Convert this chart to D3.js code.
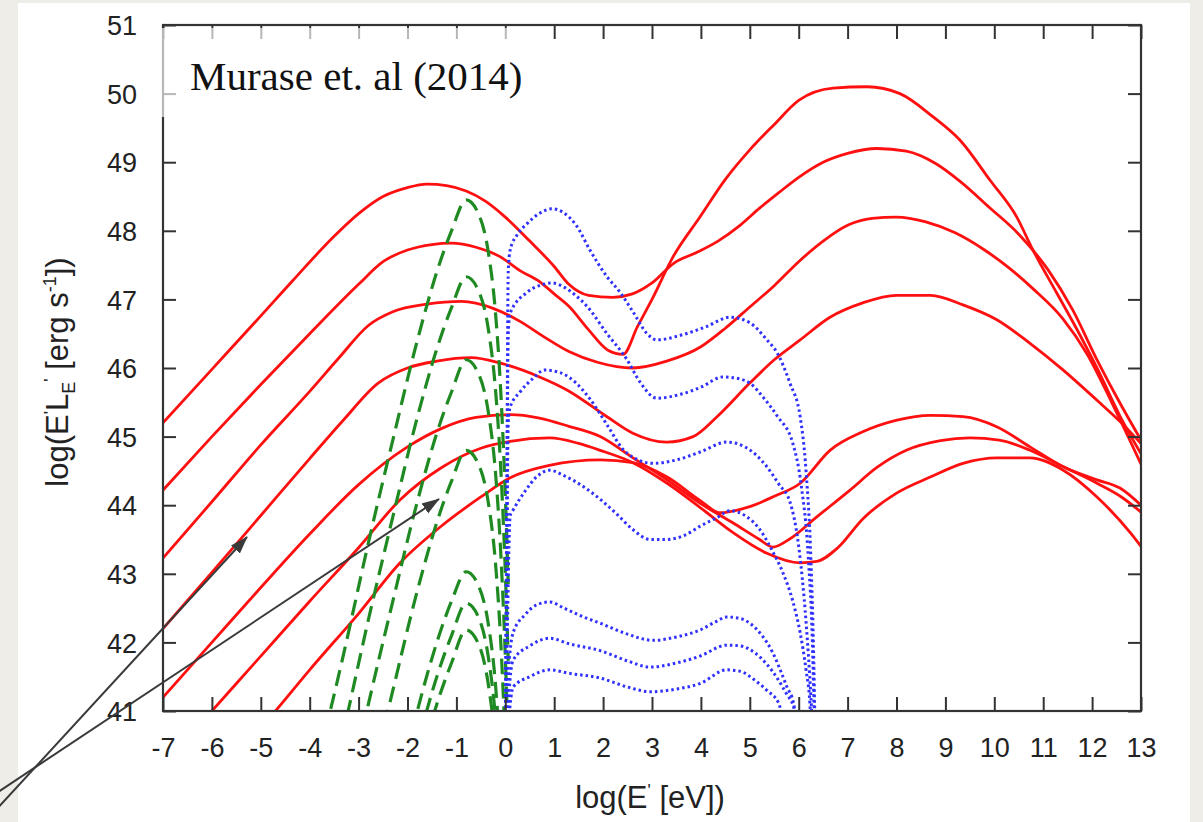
<!DOCTYPE html>
<html>
<head>
<meta charset="utf-8">
<script src="https://cdn.jsdelivr.net/npm/d3@7"></script>
<style>
  body { margin: 0; background: #efede7; }
  svg { display: block; }
</style>
</head>
<body>
<div id="chart"></div>
<script>
// axis ticks
var xTickValues = [-7, -6, -5, -4, -3, -2, -1, 0, 1, 2, 3, 4, 5, 6, 7, 8, 9, 10, 11, 12, 13];
var yTickValues = [41, 42, 43, 44, 45, 46, 47, 48, 49, 50, 51];

// red solid: synchrotron + inverse Compton, [log E, log EL_E]
var red1 = [[-7,45.2],[-6,45.98],[-5,46.76],[-4.34,47.28],[-3.5,47.92],[-3,48.25],[-2.5,48.5],[-2,48.63],[-1.6,48.68],[-1.2,48.66],[-0.8,48.58],[-0.4,48.43],[0,48.2],[0.5,47.85],[1,47.48],[1.3,47.22],[1.7,47.06],[2.2,47.03],[2.6,47.08],[3,47.24],[3.45,47.53],[3.9,47.68],[4.35,47.85],[4.8,48.08],[5.2,48.33],[5.6,48.56],[6,48.78],[6.5,49],[7,49.13],[7.6,49.2],[8.2,49.16],[8.8,48.98],[9.3,48.72],[9.9,48.34],[10.5,47.95],[11.1,47.43],[11.6,46.85],[12.1,46.12],[12.6,45.45],[13,44.95]];
var red2 = [[-7,44.22],[-6,45],[-5,45.76],[-4,46.5],[-3,47.22],[-2.5,47.55],[-2,47.72],[-1.5,47.8],[-1.1,47.82],[-0.6,47.76],[-0.1,47.62],[0.3,47.42],[0.7,47.26],[1,47.08],[1.3,46.9],[1.7,46.56],[2.1,46.26],[2.41,46.2],[2.7,46.6],[3,47],[3.43,47.62],[3.98,48.2],[4.5,48.75],[5,49.18],[5.5,49.55],[6,49.9],[6.7,50.08],[7.4,50.1],[8.07,50],[8.75,49.66],[9.3,49.32],[9.91,48.74],[10.46,48.2],[10.79,47.72],[11.28,47.09],[11.7,46.55],[12.1,46],[12.57,45.3],[13,44.75]];
var red3 = [[-7,43.23],[-6,44.05],[-5,44.88],[-4,45.66],[-3.4,46.15],[-2.8,46.62],[-2.3,46.82],[-1.6,46.93],[-0.9,46.97],[-0.25,46.87],[0.3,46.68],[0.8,46.45],[1.3,46.24],[1.9,46.08],[2.6,46],[3.3,46.1],[4,46.31],[4.5,46.58],[5,46.89],[5.5,47.2],[6,47.55],[6.5,47.85],[7,48.08],[7.5,48.18],[8,48.2],[8.6,48.13],[9.2,47.97],[9.8,47.72],[10.3,47.46],[10.8,47.15],[11.4,46.72],[11.9,46.2],[12.4,45.5],[13,44.6]];
var red4 = [[-7,42.2],[-6,43.02],[-5,43.85],[-4,44.68],[-3.3,45.25],[-2.6,45.78],[-2,46],[-1.4,46.1],[-0.7,46.15],[-0.1,46.07],[0.7,45.87],[1.26,45.68],[2.08,45.29],[2.61,45.05],[3.3,44.92],[3.84,45],[4.33,45.29],[5,45.78],[5.5,46.12],[6.03,46.41],[6.64,46.74],[7.31,46.95],[8,47.06],[8.7,47.06],[9.36,46.92],[10.06,46.7],[10.73,46.36],[11.41,45.97],[12.1,45.53],[12.6,45.2],[13,44.9]];
var red5 = [[-7,41.2],[-6,42],[-5,42.8],[-4,43.58],[-3,44.3],[-2,44.85],[-1.3,45.12],[-0.6,45.28],[0.1,45.32],[0.7,45.27],[1.3,45.15],[1.94,45],[2.61,44.69],[3.31,44.37],[3.98,44.03],[4.66,43.74],[5.2,43.5],[5.47,43.39],[5.8,43.5],[6.37,43.83],[7.05,44.22],[7.6,44.55],[8.2,44.8],[8.9,44.94],[9.5,44.98],[10.1,44.95],[10.73,44.8],[11.41,44.56],[12.1,44.32],[12.6,44.12],[13,43.9]];
var red6 = [[-7,40.2],[-6,41],[-5,41.8],[-4,42.6],[-3,43.38],[-2.15,44.08],[-1.3,44.55],[-0.5,44.83],[0.1,44.93],[0.91,44.98],[1.5,44.9],[1.94,44.8],[2.61,44.62],[3.31,44.32],[3.98,43.97],[4.66,43.6],[5.35,43.3],[6.03,43.16],[6.37,43.18],[6.8,43.38],[7.31,43.8],[8.01,44.18],[8.69,44.41],[9.36,44.61],[10.06,44.69],[10.73,44.69],[11.41,44.51],[12.1,44.12],[12.78,43.6],[13,43.4]];
var red7 = [[-5,40.75],[-4.7,41],[-4,41.6],[-3,42.42],[-2.15,43.16],[-1.3,43.7],[-0.5,44.12],[0.1,44.4],[0.9,44.58],[1.94,44.66],[2.61,44.62],[3.31,44.41],[3.98,44.07],[4.39,43.89],[5,43.98],[5.5,44.13],[6.03,44.32],[6.64,44.8],[7.31,45.07],[8.01,45.24],[8.69,45.31],[9.36,45.29],[10.06,45.14],[10.73,44.85],[11.41,44.56],[12.1,44.37],[12.57,44.25],[13,44]];

// green dashed: thermal bumps, shared energies
var greenX = [-3.8, -3.3, -2.8, -2.3, -1.8, -1.4, -1.1, -0.8, -0.55, -0.35, -0.2, -0.1, 0.0, 0.06];
var green1 = [40.35, 41.85, 43.45, 44.95, 46.4, 47.4, 48.0, 48.45, 48.25, 47.7, 46.8, 45.75, 44.15, 42.85];
var green2 = [39.23, 40.73, 42.33, 43.83, 45.28, 46.28, 46.88, 47.33, 47.13, 46.58, 45.68, 44.63, 43.03, 41.73];
var green3 = [38.0, 39.5, 41.1, 42.6, 44.05, 45.05, 45.65, 46.12, 45.92, 45.37, 44.47, 43.4, 41.8, 40.5];
var green4 = [36.7, 38.2, 39.8, 41.3, 42.75, 43.75, 44.35, 44.8, 44.6, 44.05, 43.15, 42.1, 40.5, 39.2];
var green5 = [34.9, 36.4, 38.0, 39.5, 41.0, 42.0, 42.6, 43.03, 42.83, 42.28, 41.38, 40.3, 38.7, 37.4];
var green6 = [34.5, 36.0, 37.6, 39.1, 40.5, 41.5, 42.1, 42.57, 42.37, 41.8, 40.9, 39.9, 38.3, 37.0];
var green7 = [34.1, 35.6, 37.2, 38.7, 40.1, 41.1, 41.7, 42.18, 41.98, 41.4, 40.5, 39.5, 37.9, 36.6];

// blue dotted
var blue1 = [[0,40],[0.03,44],[0.06,47.4],[0.1,47.72],[0.25,47.95],[0.44,48.1],[0.71,48.26],[0.95,48.32],[1.2,48.26],[1.45,48.08],[1.73,47.72],[2.08,47.33],[2.35,47.1],[2.61,46.82],[2.9,46.5],[3.1,46.41],[3.6,46.48],[4.1,46.6],[4.6,46.74],[5,46.66],[5.35,46.41],[5.56,46.22],[5.82,45.78],[6.03,45.29],[6.15,44.5],[6.25,43.2],[6.3,42],[6.34,40.5]];
var blue2 = [[0,40],[0.03,43.5],[0.06,46.5],[0.1,46.8],[0.44,47.1],[0.78,47.22],[0.95,47.24],[1.2,47.18],[1.45,47.05],[1.67,46.9],[2.08,46.5],[2.49,46.12],[2.75,45.8],[3.1,45.56],[3.6,45.62],[4,45.72],[4.45,45.87],[4.8,45.84],[5,45.78],[5.3,45.55],[5.56,45.3],[5.88,44.9],[6.05,44.3],[6.2,43.2],[6.28,42],[6.33,40.5]];
var blue3 = [[0,40],[0.03,43],[0.06,45.2],[0.1,45.43],[0.3,45.65],[0.57,45.85],[0.8,45.97],[1.13,45.93],[1.45,45.78],[1.73,45.55],[2.1,45.15],[2.4,44.82],[2.61,44.7],[3.02,44.61],[3.5,44.66],[4,44.78],[4.53,44.92],[4.9,44.85],[5.35,44.56],[5.6,44.3],[5.82,44.05],[6,43.4],[6.15,42.3],[6.25,41.2],[6.3,40.5]];
var blue4 = [[0,40],[0.05,42.5],[0.1,43.85],[0.16,43.93],[0.4,44.2],[0.65,44.42],[0.91,44.51],[1.2,44.43],[1.6,44.27],[2,44.05],[2.28,43.87],[2.6,43.65],[2.96,43.5],[3.3,43.5],[3.63,43.55],[4,43.7],[4.33,43.82],[4.6,43.92],[4.9,43.85],[5.21,43.64],[5.45,43.35],[5.68,43.01],[5.88,42.6],[6.03,42.14],[6.15,41.6],[6.23,41.1],[6.27,40.5]];
var blue5 = [[0,40],[0.06,41.5],[0.16,42.14],[0.4,42.4],[0.65,42.55],[0.91,42.59],[1.2,42.5],[1.6,42.37],[1.94,42.28],[2.5,42.12],[3.02,42.03],[3.5,42.08],[3.98,42.18],[4.3,42.3],[4.53,42.37],[4.8,42.35],[5,42.28],[5.25,42.1],[5.47,41.85],[5.65,41.55],[5.76,41.35],[5.9,41.1],[5.98,40.5]];
var blue6 = [[0,40],[0.08,41.3],[0.16,41.74],[0.5,41.95],[0.91,42.06],[1.3,41.98],[1.94,41.88],[2.5,41.73],[2.96,41.64],[3.5,41.7],[3.98,41.8],[4.53,41.96],[4.8,41.95],[5.1,41.85],[5.35,41.68],[5.56,41.48],[5.75,41.25],[5.9,41.05],[5.96,40.5]];
var blue7 = [[0,40],[0.1,41.1],[0.16,41.35],[0.5,41.5],[0.91,41.6],[1.3,41.55],[1.94,41.48],[2.5,41.35],[2.96,41.28],[3.5,41.32],[3.98,41.4],[4.53,41.6],[4.8,41.58],[5.1,41.45],[5.35,41.3],[5.6,41.1],[5.7,40.5]];

var redSeries = [red1, red2, red3, red4, red5, red6, red7];
var greenSeries = [green1, green2, green3, green4, green5, green6, green7];
var blueSeries = [blue1, blue2, blue3, blue4, blue5, blue6, blue7];

var width = 1203, height = 822;
var x = d3.scaleLinear().domain([-7, 13]).range([163, 1141]);
var y = d3.scaleLinear().domain([41, 51]).range([711, 25]);

var svg = d3.select("#chart").append("svg").attr("width", width).attr("height", height);

// white page panel
svg.append("rect").attr("x", 18).attr("y", 3).attr("width", 1172).attr("height", 830).attr("fill", "#fff");

svg.append("defs").append("clipPath").attr("id", "plotclip")
  .append("rect").attr("x", x(-7)).attr("y", y(51)).attr("width", x(13) - x(-7)).attr("height", y(41) - y(51));

var line = d3.line().x(function (d) { return x(d[0]); }).y(function (d) { return y(d[1]); })
  .curve(d3.curveMonotoneX);

var curves = svg.append("g").attr("clip-path", "url(#plotclip)");

curves.selectAll(".red").data(redSeries).enter().append("path")
  .attr("class", "red")
  .attr("d", line)
  .attr("fill", "none").attr("stroke", "#ff1010").attr("stroke-width", 2.8);

curves.selectAll(".green").data(greenSeries).enter().append("path")
  .attr("class", "green")
  .attr("d", function (vals) { return line(greenX.map(function (e, i) { return [e, vals[i]]; })); })
  .attr("fill", "none").attr("stroke", "#1f8a22").attr("stroke-width", 3.2)
  .attr("stroke-dasharray", "16,8");

curves.selectAll(".blue").data(blueSeries).enter().append("path")
  .attr("class", "blue")
  .attr("d", line)
  .attr("fill", "none").attr("stroke", "#3030ff").attr("stroke-width", 3)
  .attr("stroke-dasharray", "2.5,3");

// axes, ticks inside the frame
var tickFont = "27px 'Liberation Sans', Arial, sans-serif";
var plain = function (d) { return String(d); };
var axB = svg.append("g").attr("transform", "translate(0," + y(41) + ")")
  .call(d3.axisBottom(x).tickValues(xTickValues).tickSizeInner(-14).tickSizeOuter(0).tickPadding(27).tickFormat(plain));
var axT = svg.append("g").attr("transform", "translate(0," + y(51) + ")")
  .call(d3.axisTop(x).tickValues(xTickValues).tickSizeInner(-14).tickSizeOuter(0).tickFormat(""));
var axL = svg.append("g").attr("transform", "translate(" + x(-7) + ",0)")
  .call(d3.axisLeft(y).tickValues(yTickValues).tickSizeInner(-13).tickSizeOuter(0).tickPadding(26).tickFormat(plain));
var axR = svg.append("g").attr("transform", "translate(" + x(13) + ",0)")
  .call(d3.axisRight(y).tickValues(yTickValues).tickSizeInner(-13).tickSizeOuter(0).tickFormat(""));

[axB, axT, axL, axR].forEach(function (g) {
  g.select(".domain").remove();
  g.selectAll(".tick line").attr("stroke", "#333").attr("stroke-width", 2);
  g.selectAll(".tick text").style("font", tickFont).attr("fill", "#222");
});
axL.selectAll(".tick text").attr("dy", "0.36em");

svg.append("rect")
  .attr("x", x(-7)).attr("y", y(51)).attr("width", x(13) - x(-7)).attr("height", y(41) - y(51))
  .attr("fill", "none").attr("stroke", "#333").attr("stroke-width", 2.2);

// the pasted caption box fades the frame under it
svg.append("rect").attr("x", 160).attr("y", 28).attr("width", 370).attr("height", 89)
  .attr("fill", "#fff").attr("opacity", 0.65);
svg.append("text").attr("x", 190).attr("y", 90)
  .style("font", "41px 'Liberation Serif', 'Times New Roman', serif").attr("fill", "#111")
  .text("Murase et. al (2014)");

// axis titles
var labelFont = "31px 'Liberation Sans', Arial, sans-serif";
var xl = svg.append("text").attr("x", 650).attr("y", 808).attr("text-anchor", "middle")
  .style("font", labelFont).attr("fill", "#222");
xl.append("tspan").text("log(E");
xl.append("tspan").attr("dy", -12).style("font-size", "17px").text("'");
xl.append("tspan").attr("dy", 12).text(" [eV])");

var yl = svg.append("text").attr("transform", "translate(68,372) rotate(-90)").attr("text-anchor", "middle")
  .style("font", labelFont).attr("fill", "#222");
[
  { t: "log(E" },
  { t: "'", s: 17, dy: -12 },
  { t: "L", dy: 12 },
  { t: "E", s: 18, dy: 7 },
  { t: "'", s: 17, dy: -19 },
  { t: " [erg s", dy: 12 },
  { t: "-1", s: 18, dy: -12 },
  { t: "])", dy: 12 }
].forEach(function (p) {
  var ts = yl.append("tspan").text(p.t);
  if (p.dy) ts.attr("dy", p.dy);
  if (p.s) ts.style("font-size", p.s + "px");
});

// pointer arrows
svg.append("defs").append("marker").attr("id", "head")
  .attr("viewBox", "0 -7 18 14").attr("refX", 17).attr("refY", 0)
  .attr("markerWidth", 18).attr("markerHeight", 14).attr("markerUnits", "userSpaceOnUse")
  .attr("orient", "auto")
  .append("path").attr("d", "M0,-6L18,0L0,6Z").attr("fill", "#3a3a3a");

var arrows = [[[-5, 811], [247, 537]], [[-5, 794], [439, 499]]];
svg.selectAll(".arrow").data(arrows).enter().append("line")
  .attr("class", "arrow")
  .attr("x1", function (d) { return d[0][0]; }).attr("y1", function (d) { return d[0][1]; })
  .attr("x2", function (d) { return d[1][0]; }).attr("y2", function (d) { return d[1][1]; })
  .attr("stroke", "#3a3a3a").attr("stroke-width", 2)
  .attr("marker-end", "url(#head)");
</script>
</body>
</html>
